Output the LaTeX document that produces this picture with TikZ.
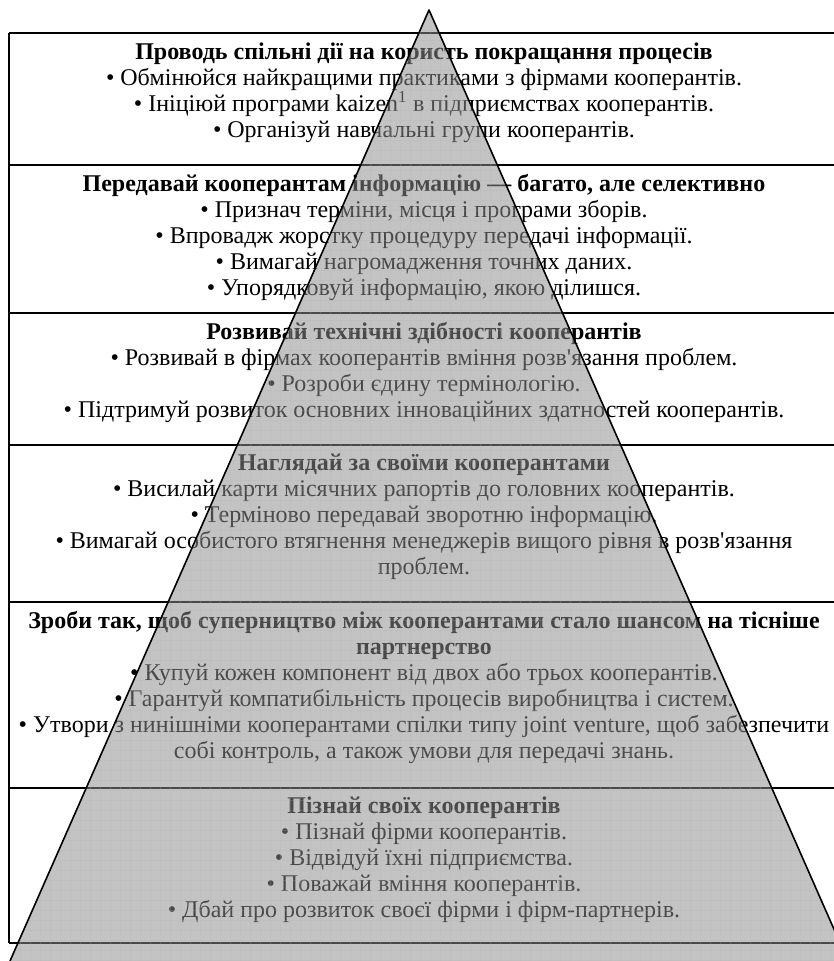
\documentclass[tikz,border=0pt]{standalone}
\usepackage{fontspec}
\setmainfont{Liberation Serif}[Ligatures=TeXOff]
\usetikzlibrary{positioning}

\begin{document}
\begin{tikzpicture}[x=1pt, y=-1pt, font=\fontsize{24}{26}\selectfont,
  rozdil/.style={align=center, anchor=north, inner sep=0pt},
  liniya/.style={line width=1.6pt},
  sitka/.style={gray!60, opacity=0.22, line width=0.5pt}]
  \useasboundingbox (0,0) rectangle (834,961);

  % tablytsia
  \draw[liniya] (9,33) -- (9,943);
  \foreach \y in {33,165,313,445,602,788,943} {\draw[liniya] (9,\y) -- (840,\y);}

  \node[rozdil] (s1) at (424,43) {\textbf{Проводь спільні дії на користь покращання процесів}\\
    • Обмінюйся найкращими практиками з фірмами кооперантів.\\
    • Ініціюй програми kaizen\textsuperscript{1} в підприємствах кооперантів.\\
    • Організуй навчальні групи кооперантів.};
  \node[rozdil] (s2) at (424,174) {\textbf{Передавай кооперантам інформацію — багато, але селективно}\\
    • Признач терміни, місця і програми зборів.\\
    • Впровадж жорстку процедуру передачі інформації.\\
    • Вимагай нагромадження точних даних.\\
    • Упорядковуй інформацію, якою ділишся.};
  \node[rozdil] (s3) at (424,322) {\textbf{Розвивай технічні здібності кооперантів}\\
    • Розвивай в фірмах кооперантів вміння розв'язання проблем.\\
    • Розроби єдину термінологію.\\
    • Підтримуй розвиток основних інноваційних здатностей кооперантів.};
  \node[rozdil] (s4) at (424,454) {\textbf{Наглядай за своїми кооперантами}\\
    • Висилай карти місячних рапортів до головних кооперантів.\\
    • Терміново передавай зворотню інформацію.\\
    • Вимагай особистого втягнення менеджерів вищого рівня в розв'язання\\
    проблем.};
  \node[rozdil] (s5) at (424,611) {\textbf{Зроби так, щоб суперництво між кооперантами стало шансом на тісніше}\\
    \textbf{партнерство}\\
    • Купуй кожен компонент від двох або трьох кооперантів.\\
    • Гарантуй компатибільність процесів виробництва і систем.\\
    • Утвори з нинішніми кооперантами спілки типу joint venture, щоб забезпечити\\
    собі контроль, а також умови для передачі знань.};
  \node[rozdil] (s6) at (424,797) {\textbf{Пізнай своїх кооперантів}\\
    • Пізнай фірми кооперантів.\\
    • Відвідуй їхні підприємства.\\
    • Поважай вміння кооперантів.\\
    • Дбай про розвиток своєї фірми і фірм-партнерів.};

  % piramida
  \fill[gray!90, opacity=0.52] (429,10) -- (10,961) -- (848,961) -- cycle;
  \begin{scope}
    \clip (429,10) -- (10,961) -- (848,961) -- cycle;
    \foreach \g in {0,10,...,850} {\draw[sitka] (\g,0) -- (\g,961);}
    \foreach \g in {0,10,...,960} {\draw[sitka] (0,\g) -- (850,\g);}
  \end{scope}
  \draw[line width=1.6pt, line join=round] (10,961) -- (429,10) -- (848,961);
\end{tikzpicture}
\end{document}
